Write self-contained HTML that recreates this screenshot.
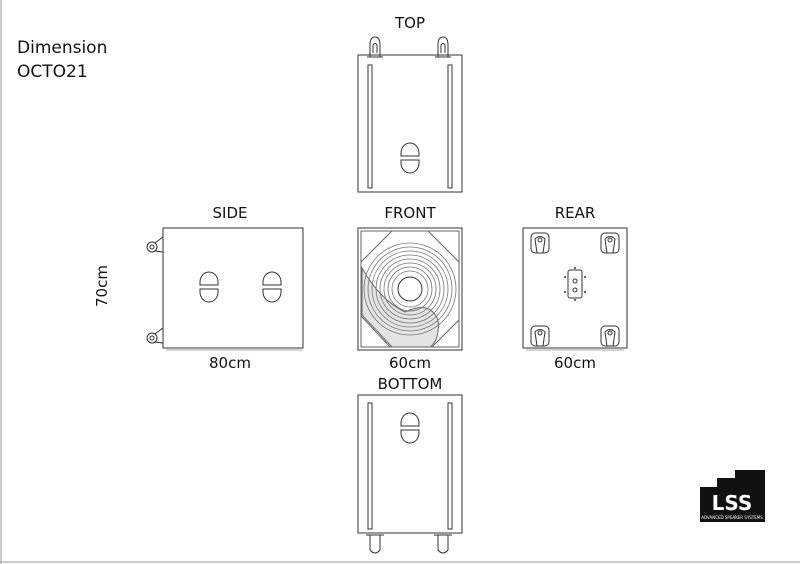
<!DOCTYPE html>
<html><head><style>body{margin:0;background:#fff}svg{display:block}</style></head><body>
<svg width="800" height="564" viewBox="0 0 800 564" xmlns="http://www.w3.org/2000/svg" font-family="'DejaVu Sans','Liberation Sans',sans-serif" fill="none" stroke="#333" stroke-width="1">
<defs>
<g id="handle"><path d="M-9,-2 L-9,-5 A9,10 0 0 1 9,-5 L9,-2 Z"/><path d="M-9,2 L9,2 L9,5 A9,10 0 0 1 -9,5 Z"/></g>
<g id="castT"><path d="M-5,18 L-5,6 Q-5,-2 0,-2 Q5,-2 5,6 L5,18 Z"/><path d="M-2,14 L-2,6 Q0,3 2,6 L2,14"/><path d="M-8,18 L8,18"/></g>
<g id="castR"><rect x="-9" y="-10" width="18" height="20" rx="4"/><path d="M-5,-4 Q0,-9 5,-4 L3,10 L-3,10 Z"/><circle cx="0" cy="-3" r="2"/></g>
</defs>
<line x1="1" y1="0" x2="1" y2="564" stroke="#999"/>
<line x1="0" y1="562" x2="800" y2="562" stroke="#999"/>
<g fill="#111" stroke="none" font-size="16">
<text x="17" y="53" font-size="17">Dimension</text><text x="17" y="77" font-size="17">OCTO21</text>
<text x="410" y="28" text-anchor="middle" font-size="15">TOP</text>
<text x="230" y="218" text-anchor="middle" font-size="15">SIDE</text>
<text x="410" y="218" text-anchor="middle" font-size="15">FRONT</text>
<text x="575" y="218" text-anchor="middle" font-size="15">REAR</text>
<text x="230" y="368" text-anchor="middle" font-size="15">80cm</text>
<text x="410" y="368" text-anchor="middle" font-size="15">60cm</text>
<text x="575" y="368" text-anchor="middle" font-size="15">60cm</text>
<text x="410" y="389" text-anchor="middle" font-size="15">BOTTOM</text>
<text x="107" y="286" text-anchor="middle" font-size="15" transform="rotate(-90 107 286)">70cm</text>
</g>
<!-- TOP -->
<rect x="358" y="55" width="104" height="137"/>
<rect x="368" y="65" width="4" height="123"/><rect x="448" y="65" width="4" height="123"/>
<use href="#handle" transform="translate(410,158)"/>
<use href="#castT" transform="translate(375,39)"/><use href="#castT" transform="translate(443,39)"/>
<!-- SIDE -->
<rect x="163" y="228" width="140" height="120"/>
<line x1="166" y1="350" x2="302" y2="350" stroke="#aaa"/>
<use href="#handle" transform="translate(209,287)"/><use href="#handle" transform="translate(272,287)"/>
<circle cx="152" cy="247" r="5"/><circle cx="152" cy="247" r="2"/><path d="M155,243 L163,237 L163,252 L155,251"/>
<circle cx="152" cy="338" r="5"/><circle cx="152" cy="338" r="2"/><path d="M155,334 L163,328 L163,343 L155,342"/>
<!-- FRONT -->
<rect x="358" y="228" width="104" height="122"/>
<rect x="361" y="231" width="98" height="116" stroke="#666"/>
<path d="M392,231 L428,231 L459,262 L459,320 L432,347 L390,347 L361,316 L361,262 Z" stroke="#666"/>
<path d="M362,268 Q380,300 405,312 Q430,300 438,320 Q440,340 430,347 L392,347 L362,315 Z" fill="#e4e4e4" stroke="#666"/>
<g stroke="#777" stroke-width="0.8">
<circle cx="410" cy="289" r="46"/><circle cx="410" cy="289" r="42"/><circle cx="410" cy="289" r="38"/><circle cx="410" cy="289" r="34"/><circle cx="410" cy="289" r="30"/><circle cx="410" cy="289" r="26"/><circle cx="410" cy="289" r="22"/><circle cx="410" cy="289" r="18"/>
</g>
<circle cx="410" cy="289" r="12" fill="#fff"/>
<!-- REAR -->
<rect x="523" y="228" width="104" height="120"/>
<line x1="526" y1="350" x2="624" y2="350" stroke="#aaa"/>
<use href="#castR" transform="translate(540,243)"/><use href="#castR" transform="translate(610,243)"/>
<use href="#castR" transform="translate(540,336)"/><use href="#castR" transform="translate(610,336)"/>
<rect x="568" y="270" width="14" height="28" rx="2"/><circle cx="575" cy="281" r="2"/><circle cx="575" cy="290" r="2"/>
<g fill="#333" stroke="none"><circle cx="575" cy="268" r="1"/><circle cx="575" cy="300" r="1"/><circle cx="565" cy="277" r="1"/><circle cx="585" cy="277" r="1"/><circle cx="565" cy="292" r="1"/><circle cx="585" cy="292" r="1"/></g>
<!-- BOTTOM -->
<rect x="358" y="395" width="104" height="138"/>
<rect x="368" y="403" width="4" height="126"/><rect x="448" y="403" width="4" height="126"/>
<use href="#handle" transform="translate(410,428)"/>
<path d="M370,535 L370,550 Q375,556 380,550 L380,535"/><path d="M366,535 L384,535"/>
<path d="M438,535 L438,550 Q443,556 448,550 L448,535"/><path d="M434,535 L452,535"/>
<!-- logo -->
<g stroke="none">
<rect x="700" y="487" width="65" height="35" fill="#111"/>
<rect x="717" y="478" width="48" height="10" fill="#111"/>
<rect x="735" y="470" width="30" height="10" fill="#111"/>
<text x="732" y="510" text-anchor="middle" fill="#fff" font-size="20" font-weight="bold" font-family="'DejaVu Sans',sans-serif">LSS</text>
<text x="732" y="519" text-anchor="middle" fill="#fff" font-size="4">ADVANCED SPEAKER SYSTEMS</text>
</g>
</svg>
</body></html>
